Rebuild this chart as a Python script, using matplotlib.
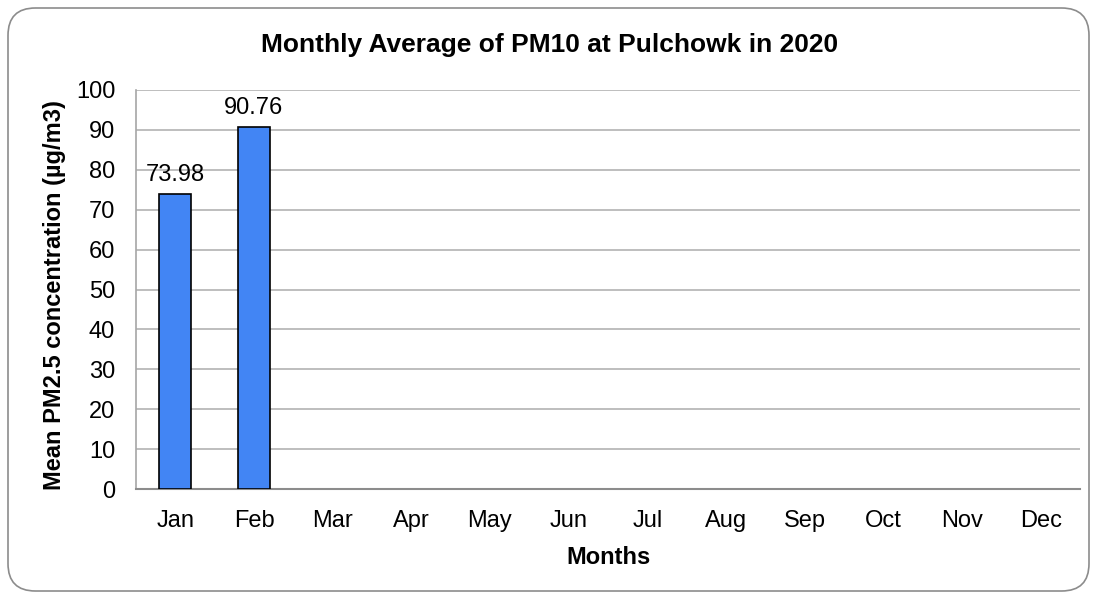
import matplotlib.pyplot as plt
from matplotlib.patches import FancyBboxPatch

plt.rcParams['font.family'] = ['Liberation Sans', 'DejaVu Sans']

months = ["Jan", "Feb", "Mar", "Apr", "May", "Jun", "Jul", "Aug", "Sep", "Oct", "Nov", "Dec"]
nan = float("nan")
pm_values = [73.98, 90.76, nan, nan, nan, nan, nan, nan, nan, nan, nan, nan]

fig = plt.figure(figsize=(10.96, 5.99), dpi=100)
ax = fig.add_axes([136 / 1096, 1 - 489 / 599, (1080 - 136) / 1096, (489 - 90) / 599])

# rounded chart border
border = FancyBboxPatch((8 / 1096, 8 / 599), 1081 / 1096, 583 / 599,
                        boxstyle="round,pad=0,rounding_size=0.025",
                        transform=fig.transFigure, facecolor="white",
                        edgecolor="#8c8c8c", linewidth=1.2, zorder=-10,
                        mutation_aspect=1096 / 599)
fig.patches.append(border)

x = range(len(months))
bars = ax.bar(x, pm_values, width=0.41, color="#4285F4", edgecolor="black",
              linewidth=1.2, zorder=3)

for bar, v in zip(bars, pm_values):
    if v == v:
        ax.text(bar.get_x() + bar.get_width() / 2, v + 2,
                f"{v:.2f}", ha="center", va="bottom", fontsize=17)

ax.set_xlim(-0.5, 11.5)
ax.set_ylim(0, 100)
ax.set_yticks(range(0, 101, 10))
ax.set_xticks(list(x))
ax.set_xticklabels(months)
ax.yaxis.grid(True, color="#b3b3b3", linewidth=1.2, zorder=0)
ax.set_axisbelow(True)
ax.tick_params(axis="both", length=0, labelsize=17)
ax.tick_params(axis="y", pad=15)
ax.tick_params(axis="x", pad=15)

for s in ["top", "right"]:
    ax.spines[s].set_visible(False)
ax.spines["left"].set_color("#a6a6a6")
ax.spines["bottom"].set_color("#8c8c8c")
ax.spines["left"].set_linewidth(1.2)
ax.spines["bottom"].set_linewidth(1.5)

ax.set_xlabel("Months", fontsize=17, fontweight="bold", labelpad=10)
ax.set_ylabel("Mean PM2.5 concentration (µg/m3)", fontsize=17, fontweight="bold")
ax.yaxis.set_label_coords(-70 / 944, 0.485)
fig.text(550 / 1096, 1 - 45 / 599, "Monthly Average of PM10 at Pulchowk in 2020",
         ha="center", va="center", fontsize=19, fontweight="bold")

fig.savefig("out.png", dpi=100)
